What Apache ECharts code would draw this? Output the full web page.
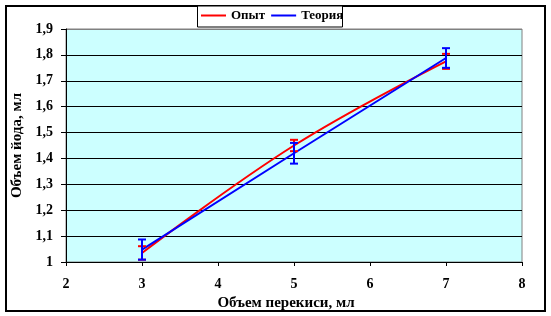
<!DOCTYPE html>
<html>
<head>
<meta charset="utf-8">
<script src="https://cdn.jsdelivr.net/npm/echarts@6/dist/echarts.min.js"></script>
<style>
html,body{margin:0;padding:0;background:#fff;}
#c{width:551px;height:316px;}
</style>
</head>
<body>
<div id="c"></div>
<script>
const xValues = [3, 5, 7];
const opyt = [1.035, 1.45, 1.775];
const opytErr = [0.026, 0.022, 0.029];
const teoriya = [1.048, 1.42, 1.788];
const teoriyaErr = [0.039, 0.04, 0.038];
const seriesNames = ['Опыт', 'Теория'];
const xTitle = 'Объем перекиси, мл';
const yTitle = 'Объем йода, мл';

const FONT = 'Liberation Serif';
const chart = echarts.init(document.getElementById('c'), null, {renderer: 'canvas'});

function errData(vals, errs) {
  return xValues.map((x, i) => [x, vals[i] - errs[i], vals[i] + errs[i]]);
}
function errRender(color) {
  return function (params, api) {
    const x = api.value(0), lo = api.value(1), hi = api.value(2);
    const pHi = api.coord([x, hi]);
    const pLo = api.coord([x, lo]);
    const hw = 4;
    const st = {stroke: color, lineWidth: 2};
    return {
      type: 'group',
      children: [
        {type: 'line', shape: {x1: pHi[0], y1: pHi[1], x2: pLo[0], y2: pLo[1]}, style: st},
        {type: 'line', shape: {x1: pHi[0] - hw, y1: pHi[1], x2: pHi[0] + hw, y2: pHi[1]}, style: st},
        {type: 'line', shape: {x1: pLo[0] - hw, y1: pLo[1], x2: pLo[0] + hw, y2: pLo[1]}, style: st}
      ]
    };
  };
}

const gridColors = ['#000','#000','#000','#000','#000','#000','#000','#000','#000','#808080'];

chart.setOption({
  animation: false,
  backgroundColor: '#fff',
  textStyle: {fontFamily: FONT},
  graphic: [
    {type: 'rect', shape: {x: 6, y: 6, width: 539, height: 305}, style: {fill: 'none', stroke: '#000', lineWidth: 2}, z: 0},
    {type: 'rect', shape: {x: 197.5, y: 6, width: 145, height: 21}, style: {fill: '#fff', stroke: '#000', lineWidth: 1}, z: 1}
  ],
  legend: {
    data: seriesNames,
    left: 201,
    top: 9,
    padding: 0,
    itemGap: 6,
    itemWidth: 25,
    itemHeight: 2,
    icon: 'rect',
    textStyle: {fontFamily: FONT, fontWeight: 'bold', fontSize: 13, color: '#000'}
  },
  grid: {
    left: 66, top: 29, right: 29, bottom: 54,
    show: true, backgroundColor: '#CCFFFF', borderColor: '#808080', borderWidth: 1,
    containLabel: false, outerBoundsMode: 'none'
  },
  xAxis: {
    type: 'value', min: 2, max: 8, interval: 1,
    name: xTitle, nameLocation: 'middle', nameGap: 30,
    nameTextStyle: {fontFamily: FONT, fontWeight: 'bold', fontSize: 15, color: '#000', padding: [0, 16, 0, 0]},
    axisLine: {lineStyle: {color: '#000', width: 1}},
    axisTick: {show: true, inside: false, length: 4, lineStyle: {color: '#000'}},
    axisLabel: {margin: 15, fontFamily: FONT, fontWeight: 'bold', fontSize: 14, color: '#000'},
    splitLine: {show: false}
  },
  yAxis: {
    type: 'value', min: 1, max: 1.9, interval: 0.1,
    name: yTitle, nameLocation: 'middle', nameGap: 41, nameRotate: 90,
    nameTextStyle: {fontFamily: FONT, fontWeight: 'bold', fontSize: 15, color: '#000'},
    axisLine: {show: true, lineStyle: {color: '#000', width: 1}},
    axisTick: {show: true, inside: false, length: 5, lineStyle: {color: '#000'}},
    axisLabel: {
      margin: 13, fontFamily: FONT, fontWeight: 'bold', fontSize: 14, color: '#000',
      formatter: v => String(Math.round(v * 10) / 10).replace('.', ',')
    },
    splitLine: {show: true, lineStyle: {color: gridColors, width: 1}}
  },
  series: [
    {
      name: seriesNames[0], type: 'line', smooth: 0.4, symbol: 'none',
      data: xValues.map((x, i) => [x, opyt[i]]),
      lineStyle: {color: '#FF0000', width: 2}, itemStyle: {color: '#FF0000'}, z: 3
    },
    {
      name: seriesNames[1], type: 'line', smooth: false, symbol: 'none',
      data: xValues.map((x, i) => [x, teoriya[i]]),
      lineStyle: {color: '#0000FF', width: 2}, itemStyle: {color: '#0000FF'}, z: 4
    },
    {
      type: 'custom', name: 'errOpyt', renderItem: errRender('#FF0000'),
      data: errData(opyt, opytErr), encode: {x: 0, y: [1, 2]}, z: 5, silent: true
    },
    {
      type: 'custom', name: 'errTeoriya', renderItem: errRender('#0000FF'),
      data: errData(teoriya, teoriyaErr), encode: {x: 0, y: [1, 2]}, z: 6, silent: true
    }
  ]
});
</script>
</body>
</html>
